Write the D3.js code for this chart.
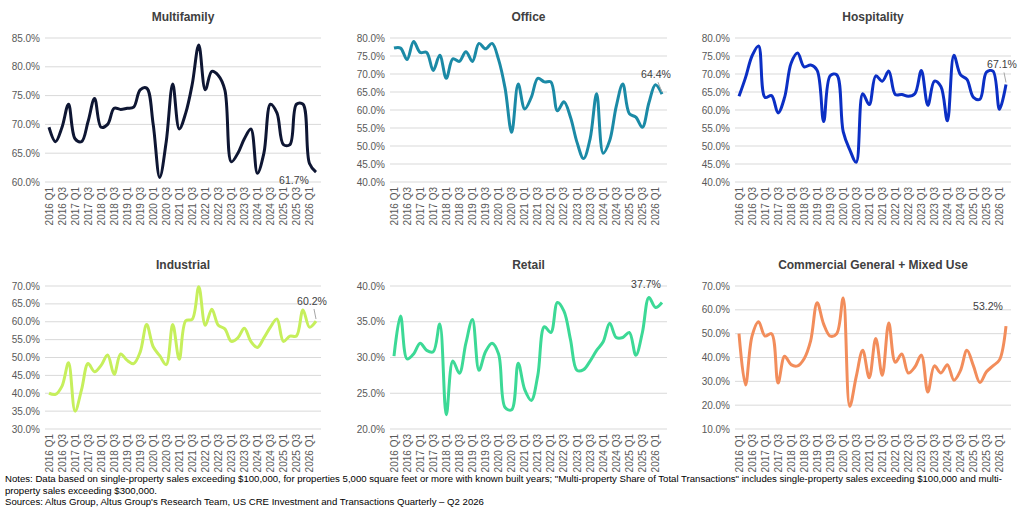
<!DOCTYPE html>
<html><head><meta charset="utf-8">
<script src="https://cdn.jsdelivr.net/npm/d3@7"></script>
<style>
body{margin:0;background:#fff;font-family:Arial,"Liberation Sans",sans-serif}
</style></head>
<body><div id="chart"></div>
<script>
const quarters = [];
for (let y = 2016; y <= 2026; y++) for (let q = 1; q <= 4; q++) if (!(y === 2026 && q > 2)) quarters.push(`${y} Q${q}`);
const tickLabels = quarters.filter(d => d.endsWith("Q1") || d.endsWith("Q3"));

const multifamily = [69.5,67,69.5,73.5,67.5,67,70.5,74.5,69.5,70,72.8,72.6,72.8,73,76,76.3,70,60.8,67,77,69.2,72,77,83.8,76,79.2,78.5,76,63.5,65,67.5,69.2,61.5,65,73.5,72,66.5,66.5,73.5,73.5,63.2,61.7];
const office = [77.2,77.2,74,79,76,76,71,75.2,68.8,74.2,73.5,76.2,73.5,78.5,77,78.5,74,66,53.8,67.2,60.3,63.5,68.8,67.8,67.8,59.8,62.3,58,51,46.5,52,64.5,48,51.5,61,67.2,59,58,55.2,62,67,64.4];
const hospitality = [63.8,69,75,77.8,63.5,64,59.2,63.5,73,75.8,72,72.5,71,56.8,69.5,69.8,54,49,45.5,64.5,61.5,69.5,68,70.8,64.3,64.3,63.8,64.5,71,61.3,68,66.5,57,75.2,69.8,68.5,63.5,63,70.5,70.8,60.2,67.1];
const industrial = [40,39.7,42,48.5,35,41,48.3,46,47.8,50.7,45.3,51,49.2,48.3,51.5,59.2,53,50.5,48,59.2,49.5,60.3,60.7,69.8,59,63.5,59,58,54.5,55.5,58.2,54.5,52.8,55.5,58.5,60.8,54.5,56,56,63.3,58.5,60.2];
const retail = [30.2,35.8,29.8,30.5,32,31,30.8,34.7,22,29.5,27.8,32,35.3,28.2,30.8,32,30.5,23,22.7,29.2,25.5,24,27.5,34.3,33.5,37.7,36.5,32.5,28.2,28.3,29.5,31,32.2,34.8,32.8,32.8,33.5,30.3,33.5,38.4,37,37.7];
const commercial = [50,28.5,49,55,49,50,29.3,40.5,37,36.5,39.5,47,63,54,49,50,65,19.5,32,43,31.5,48,32.5,54.5,38,41.5,33.5,36,41,25.5,36.5,33.5,37,30.5,34.5,43,36.5,29.5,34,36.5,39,53.2];

const panels = [
  {title:"Multifamily", data:multifamily, domain:[60,85], step:5, color:"#0e1633", col:0, row:0, lab:[-22,12], lead:false},
  {title:"Office", data:office, domain:[40,80], step:5, color:"#1b8aa6", col:1, row:0, lab:[-6,-16], lead:true},
  {title:"Hospitality", data:hospitality, domain:[40,80], step:5, color:"#0b2fc4", col:2, row:0, lab:[-4,-16], lead:true},
  {title:"Industrial", data:industrial, domain:[30,70], step:5, color:"#c6ef5c", col:0, row:1, lab:[-4,-16], lead:true},
  {title:"Retail", data:retail, domain:[20,40], step:5, color:"#3cd996", col:1, row:1, lab:[-16,-14], lead:false},
  {title:"Commercial General + Mixed Use", data:commercial, domain:[10,70], step:10, color:"#f28d5b", col:2, row:1, lab:[-18,-16], lead:false}
];

const W = 1024, H = 519;
const svg = d3.select("#chart").append("svg").attr("width", W).attr("height", H);

const colX = [[49,316],[394,662],[739,1006]];
const rowY = [[182,38],[429,286]];

panels.forEach(p => {
  const x = d3.scalePoint().domain(quarters).range(colX[p.col]);
  const y = d3.scaleLinear().domain(p.domain).range(rowY[p.row]);
  const g = svg.append("g");
  const ticks = d3.range(p.domain[0], p.domain[1] + 0.001, p.step);
  const x0 = colX[p.col][0] - 4, x1 = colX[p.col][1] + 5;

  g.selectAll(".grid").data(ticks).join("line")
    .attr("x1", x0).attr("x2", x1)
    .attr("y1", d => y(d)).attr("y2", d => y(d))
    .attr("stroke", "#d9d9d9").attr("stroke-width", 1);

  g.selectAll(".yl").data(ticks).join("text")
    .attr("x", x0 - 5).attr("y", d => y(d)).attr("dy", "0.35em")
    .attr("text-anchor", "end").attr("font-size", 10).attr("fill", "#595959")
    .text(d => d.toFixed(1) + "%");

  g.selectAll(".xl").data(tickLabels).join("text")
    .attr("transform", d => `translate(${x(d) + 3.5},${rowY[p.row][0] + 5}) rotate(-90)`)
    .attr("text-anchor", "end").attr("font-size", 10).attr("fill", "#595959")
    .text(d => d);

  g.append("text")
    .attr("x", (x0 + x1) / 2).attr("y", p.row === 0 ? 21 : 269)
    .attr("text-anchor", "middle").attr("font-size", 12).attr("font-weight", "bold")
    .attr("fill", "#404040").text(p.title);

  const line = d3.line().x((d, i) => x(quarters[i])).y(d => y(d)).curve(d3.curveCatmullRom.alpha(0.5));
  g.append("path").datum(p.data).attr("d", line)
    .attr("fill", "none").attr("stroke", p.color).attr("stroke-width", 3)
    .attr("stroke-linejoin", "round");

  const last = p.data[p.data.length - 1];
  const lx = x(quarters[quarters.length - 1]), ly = y(last);
  const tx = lx + p.lab[0], ty = ly + p.lab[1];
  if (p.lead) {
    g.append("line").attr("x1", tx + 2).attr("y1", ty + 4).attr("x2", lx).attr("y2", ly - 2)
      .attr("stroke", "#a6a6a6").attr("stroke-width", 1);
  }
  g.append("text").attr("x", tx).attr("y", ty)
    .attr("text-anchor", "middle").attr("font-size", 10.5).attr("fill", "#404040")
    .text(last.toFixed(1) + "%");
});

const notes = [
  "Notes: Data based on single-property sales exceeding $100,000, for properties 5,000 square feet or more with known built years; \"Multi-property Share of Total Transactions\" includes single-property sales exceeding $100,000 and multi-",
  "property sales exceeding $300,000.",
  "Sources: Altus Group, Altus Group's Research Team, US CRE Investment and Transactions Quarterly \u2013 Q2 2026"
];
svg.selectAll(".note").data(notes).join("text")
  .attr("x", 5).attr("y", (d, i) => 482 + i * 11.5)
  .attr("font-size", 9.6).attr("fill", "#000").text(d => d);
</script></body></html>
